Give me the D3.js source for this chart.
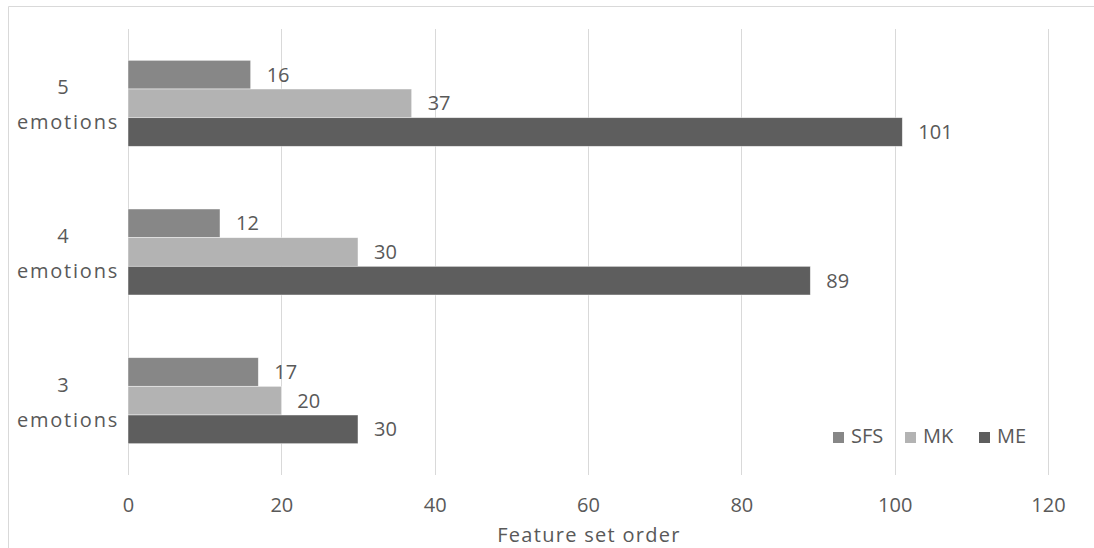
<!DOCTYPE html>
<html><head><meta charset="utf-8">
<script src="https://cdn.jsdelivr.net/npm/d3@7"></script>
<style>
html,body{margin:0;padding:0;background:#fff;}
svg{display:block;}
text{font-family:"Open Sans",sans-serif;fill:#595959;}
</style></head>
<body>
<svg id="chart" width="1094" height="548"></svg>
<script>
const categories = ["5 emotions", "4 emotions", "3 emotions"];
const seriesNames = ["SFS", "MK", "ME"];
const SFS = [16, 12, 17];
const MK = [37, 30, 20];
const ME = [101, 89, 30];
const xTicks = [0, 20, 40, 60, 80, 100, 120];
const colors = ["#878787", "#b3b3b3", "#5e5e5e"];
const seriesValues = [SFS, MK, ME];

const svg = d3.select("#chart");
const W = 1094, H = 548;
const mLeft = 128, mRight = 1048, mTop = 29, mBottom = 475;

// outer border
svg.append("path").attr("d", `M8.5,${H} V6.5 H${W}`).attr("fill","none").attr("stroke","#d9d9d9").attr("stroke-width",1);

const x = d3.scaleLinear().domain([0,120]).range([mLeft,mRight]);
const y = d3.scaleBand().domain(categories).range([mTop,mBottom]).paddingInner(0).paddingOuter(0);
const groupH = 86;
const ys = d3.scaleBand().domain(seriesNames).range([0,groupH]);

// gridlines
svg.append("g").selectAll("line").data(xTicks).join("line")
  .attr("x1", d=>Math.round(x(d))+0.5).attr("x2", d=>Math.round(x(d))+0.5)
  .attr("y1", mTop).attr("y2", mBottom)
  .attr("stroke","#d9d9d9").attr("stroke-width",1);

// x axis tick labels
const xAxis = d3.axisBottom(x).tickValues(xTicks).tickSize(0).tickPadding(0);
const gx = svg.append("g").attr("transform",`translate(0,${mBottom})`).call(xAxis);
gx.select(".domain").remove();
gx.selectAll("text").attr("dy",null).attr("y",37).style("font-size","20px").attr("fill","#595959").style("font-family","Open Sans");

// axis title
svg.append("text").attr("x",(mLeft+mRight)/2 + 1).attr("y",542).attr("text-anchor","middle")
  .style("font-size","20px").style("letter-spacing","1.3px").text("Feature set order");

// category labels
categories.forEach(c=>{
  const cy = y(c) + y.bandwidth()/2;
  const parts = c.split(" ");
  const t = svg.append("text").attr("text-anchor","middle").style("font-size","20px");
  t.append("tspan").attr("x",63).attr("y",cy-9).text(parts[0]);
  t.append("tspan").attr("x",68).attr("y",cy+26).style("letter-spacing","1.8px").text(parts[1]);
});

// bars
const rows = [];
categories.forEach((c,i)=>{
  seriesNames.forEach((s,j)=>{
    rows.push({cat:c, series:s, value:seriesValues[j][i], color:colors[j]});
  });
});
const g = svg.append("g");
g.selectAll("rect").data(rows).join("rect")
  .attr("x", x(0))
  .attr("y", d => y(d.cat) + (y.bandwidth()-groupH)/2 + ys(d.series))
  .attr("width", d => x(d.value)-x(0))
  .attr("height", ys.bandwidth())
  .attr("fill", d=>d.color)
  .attr("stroke","#ffffff").attr("stroke-opacity",0.6).attr("stroke-width",0.75);

g.selectAll("text.lbl").data(rows).join("text").attr("class","lbl")
  .attr("x", d => x(d.value)+16)
  .attr("y", d => y(d.cat) + (y.bandwidth()-groupH)/2 + ys(d.series) + ys.bandwidth()/2 + 7)
  .style("font-size","20px")
  .text(d=>d.value);

// legend
const legX = [833, 905, 979];
const leg = svg.append("g");
seriesNames.forEach((s,j)=>{
  leg.append("rect").attr("x",legX[j]).attr("y",432).attr("width",11).attr("height",11).attr("fill",colors[j]);
  leg.append("text").attr("x",legX[j]+18).attr("y",443).style("font-size","20px").text(s);
});
</script>
</body></html>
